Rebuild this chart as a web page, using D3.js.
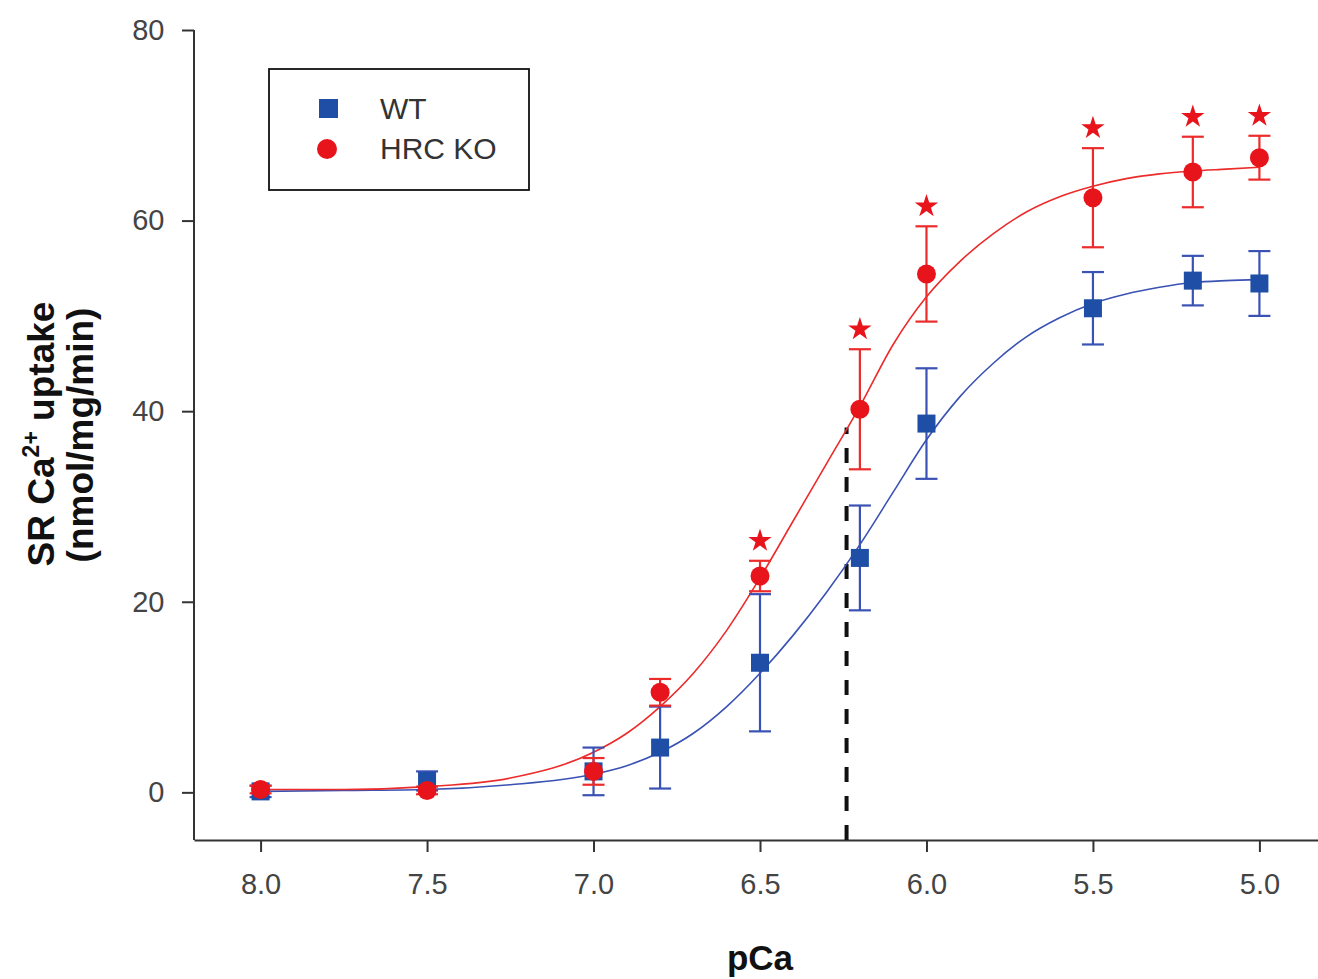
<!DOCTYPE html>
<html>
<head>
<meta charset="utf-8">
<script src="https://cdn.jsdelivr.net/npm/d3@7"></script>
<style>
  body { margin: 0; background: #fff; }
  #graph svg { display: block; }
</style>
</head>
<body>
<div id="graph"></div>
<script>
// measured points (mean ± SEM)
const pCa = [8.0, 7.5, 7.0, 6.8, 6.5, 6.2, 6.0, 5.5, 5.2, 5.0];
const wtMean = [0.1, 1.2, 2.2, 4.7, 13.6, 24.6, 38.7, 50.8, 53.7, 53.4];
const wtErr = [0.6, 1.0, 2.5, 4.3, 7.2, 5.5, 5.8, 3.8, 2.6, 3.4];
const koMean = [0.3, 0.2, 2.2, 10.5, 22.7, 40.2, 54.4, 62.4, 65.1, 66.6];
const koErr = [0.4, 0.4, 1.4, 1.4, 1.6, 6.3, 5.0, 5.2, 3.7, 2.3];
const starAt = [6.5, 6.2, 6.0, 5.5, 5.2, 5.0];

// fitted curves
const fitPCa = [8.0, 7.75, 7.5, 7.25, 7.0, 6.9, 6.8, 6.7, 6.6, 6.5, 6.4, 6.3, 6.2, 6.1, 6.0, 5.9, 5.8, 5.7, 5.6, 5.5, 5.4, 5.3, 5.2, 5.1, 5.0];
const wtFit = [0.1, 0.2, 0.3, 0.8, 1.9, 2.8, 4.2, 6.2, 9.0, 12.5, 16.5, 21.0, 26.0, 31.5, 37.0, 41.5, 45.0, 47.8, 49.8, 51.3, 52.3, 53.0, 53.5, 53.7, 53.8];
const koFit = [0.3, 0.3, 0.6, 1.5, 4.2, 6.2, 9.0, 12.5, 17.0, 22.5, 28.5, 34.5, 40.5, 47.0, 52.0, 55.7, 58.6, 60.9, 62.5, 63.6, 64.4, 64.9, 65.2, 65.4, 65.6];

const xTicks = [8.0, 7.5, 7.0, 6.5, 6.0, 5.5, 5.0];
const yTicks = [0, 20, 40, 60, 80];
const ec50 = 6.24;
const ec50Top = 38.3;

document.addEventListener("DOMContentLoaded", function () {
    const width = 1318;
    const height = 979;

    const svg = d3.select("#graph")
        .append("svg")
        .attr("width", width)
        .attr("height", height);

    const blue = "#1f4ea6";
    const red = "#e8141b";
    const blueLine = "#3a52b4";
    const redLine = "#ec2b2b";

    const x = d3.scaleLinear().domain([8.2, 4.8]).range([194, 1326]);
    const y = d3.scaleLinear().domain([-5, 80]).range([840, 30]);

    // axes
    const xAxis = svg.append("g")
        .attr("transform", `translate(0,840)`)
        .call(d3.axisBottom(x).tickValues(xTicks).tickFormat(d3.format(".1f")).tickSize(12).tickSizeOuter(0));
    const yAxis = svg.append("g")
        .attr("transform", `translate(194,0)`)
        .call(d3.axisLeft(y).tickValues(yTicks).tickSize(12).tickSizeOuter(0));

    [xAxis, yAxis].forEach(ax => {
        ax.select(".domain").attr("stroke", "#333").attr("stroke-width", 2);
        ax.selectAll(".tick line").attr("stroke", "#333").attr("stroke-width", 2);
        ax.selectAll(".tick text")
            .attr("fill", "#444")
            .attr("font-family", "Liberation Sans, Arial, sans-serif")
            .attr("font-size", 29);
    });
    xAxis.selectAll(".tick text").attr("dy", "1.35em");
    yAxis.selectAll(".tick text").attr("dx", "-0.5em");
    // y domain should stop at 80
    yAxis.select(".domain").attr("d", `M0,${y(80)}V840`);

    // titles
    svg.append("text")
        .attr("x", 760)
        .attr("y", 970)
        .attr("text-anchor", "middle")
        .attr("font-family", "Liberation Sans, Arial, sans-serif")
        .attr("font-weight", "bold")
        .attr("font-size", 35)
        .attr("fill", "#111")
        .text("pCa");

    const yTitle = svg.append("text")
        .attr("transform", "translate(54,434) rotate(-90)")
        .attr("text-anchor", "middle")
        .attr("font-family", "Liberation Sans, Arial, sans-serif")
        .attr("font-weight", "bold")
        .attr("font-size", 37)
        .attr("fill", "#111");
    yTitle.append("tspan").text("SR Ca");
    yTitle.append("tspan").attr("dy", -15).attr("font-size", 23).text("2+");
    yTitle.append("tspan").attr("dy", 15).text(" uptake");

    svg.append("text")
        .attr("transform", "translate(93,435) rotate(-90)")
        .attr("text-anchor", "middle")
        .attr("font-family", "Liberation Sans, Arial, sans-serif")
        .attr("font-weight", "bold")
        .attr("font-size", 37)
        .attr("fill", "#111")
        .text("(nmol/mg/min)");

    // EC50 marker
    svg.append("line")
        .attr("x1", x(ec50)).attr("x2", x(ec50))
        .attr("y1", 840).attr("y2", y(ec50Top))
        .attr("stroke", "#111")
        .attr("stroke-width", 4)
        .attr("stroke-dasharray", "15,14");

    // fit curves
    const line = d3.line()
        .x(d => x(d[0]))
        .y(d => y(d[1]))
        .curve(d3.curveMonotoneX);

    svg.append("path")
        .datum(fitPCa.map((p, i) => [p, wtFit[i]]))
        .attr("d", line)
        .attr("fill", "none")
        .attr("stroke", blueLine)
        .attr("stroke-width", 1.6);

    svg.append("path")
        .datum(fitPCa.map((p, i) => [p, koFit[i]]))
        .attr("d", line)
        .attr("fill", "none")
        .attr("stroke", redLine)
        .attr("stroke-width", 1.6);

    const wt = pCa.map((p, i) => ({ p, m: wtMean[i], e: wtErr[i] }));
    const ko = pCa.map((p, i) => ({ p, m: koMean[i], e: koErr[i] }));

    function errorBars(data, color) {
        const g = svg.append("g").attr("stroke", color).attr("stroke-width", 2.2);
        g.selectAll("line.v")
            .data(data)
            .join("line")
            .attr("x1", d => x(d.p)).attr("x2", d => x(d.p))
            .attr("y1", d => y(d.m - d.e)).attr("y2", d => y(d.m + d.e));
        g.selectAll("line.top")
            .data(data)
            .join("line")
            .attr("x1", d => x(d.p) - 11).attr("x2", d => x(d.p) + 11)
            .attr("y1", d => y(d.m + d.e)).attr("y2", d => y(d.m + d.e));
        g.selectAll("line.bot")
            .data(data)
            .join("line")
            .attr("x1", d => x(d.p) - 11).attr("x2", d => x(d.p) + 11)
            .attr("y1", d => y(d.m - d.e)).attr("y2", d => y(d.m - d.e));
    }

    errorBars(wt, blueLine);
    svg.append("g").selectAll("rect")
        .data(wt)
        .join("rect")
        .attr("x", d => x(d.p) - 9)
        .attr("y", d => y(d.m) - 9)
        .attr("width", 18)
        .attr("height", 18)
        .attr("fill", blue);

    errorBars(ko, redLine);
    svg.append("g").selectAll("circle")
        .data(ko)
        .join("circle")
        .attr("cx", d => x(d.p))
        .attr("cy", d => y(d.m))
        .attr("r", 9.5)
        .attr("fill", red);

    // significance stars
    svg.append("g").selectAll("path")
        .data(ko.filter(d => starAt.includes(d.p)))
        .join("path")
        .attr("d", d3.symbol().type(d3.symbolStar).size(170))
        .attr("transform", d => `translate(${x(d.p)},${y(d.m + d.e) - 20})`)
        .attr("fill", red);

    // legend
    const legend = svg.append("g");
    legend.append("rect")
        .attr("x", 269).attr("y", 69)
        .attr("width", 260).attr("height", 121)
        .attr("fill", "#fff")
        .attr("stroke", "#111")
        .attr("stroke-width", 1.8);
    legend.append("rect")
        .attr("x", 319).attr("y", 99)
        .attr("width", 19).attr("height", 19)
        .attr("fill", blue);
    legend.append("circle")
        .attr("cx", 327).attr("cy", 149)
        .attr("r", 10)
        .attr("fill", red);
    legend.selectAll("text")
        .data([["WT", 119], ["HRC KO", 159]])
        .join("text")
        .attr("x", 380)
        .attr("y", d => d[1])
        .attr("font-family", "Liberation Sans, Arial, sans-serif")
        .attr("font-size", 30)
        .attr("fill", "#333")
        .text(d => d[0]);
});
</script>
</body>
</html>
